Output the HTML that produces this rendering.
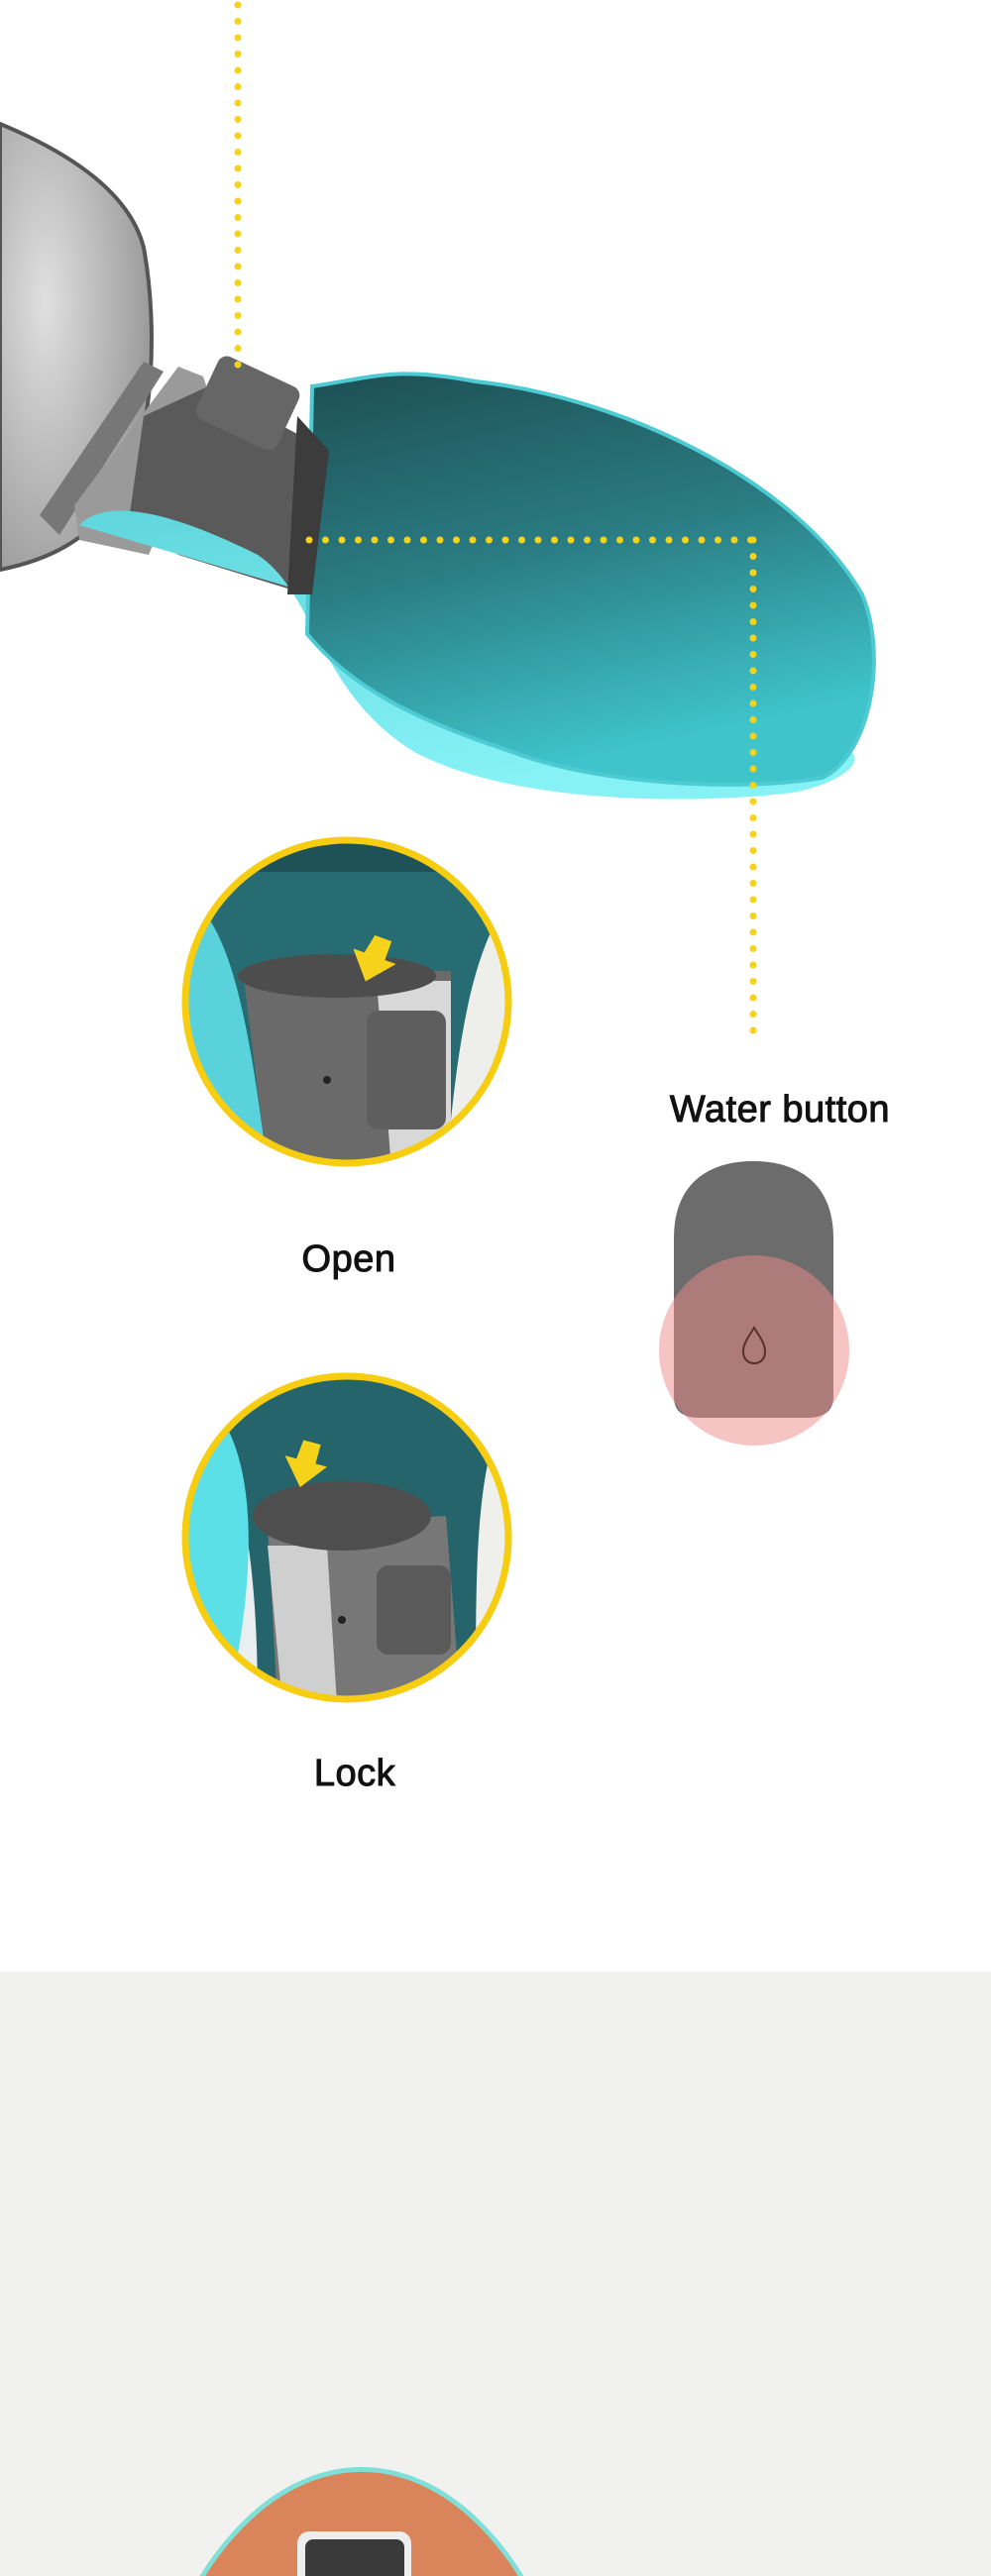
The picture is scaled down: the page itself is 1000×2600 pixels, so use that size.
<!DOCTYPE html>
<html><head><meta charset="utf-8"><style>
html,body{margin:0;padding:0;width:1000px;height:2600px;overflow:hidden;}
body{position:relative;background:#fff;font-family:"Liberation Sans",sans-serif;}
svg{position:absolute;left:0;top:0;}
.t{position:absolute;font-size:38px;color:#111;transform:translateX(-50%);white-space:nowrap;-webkit-text-stroke:1px #111;letter-spacing:0.5px;}
</style></head><body>
<svg width="1000" height="2600" viewBox="0 0 1000 2600">
<defs>
<linearGradient id="bowl" x1="0" y1="0" x2="0.3" y2="1">
<stop offset="0" stop-color="#1d4f54"/><stop offset="0.5" stop-color="#2a7c82"/><stop offset="1" stop-color="#3fc4cc"/></linearGradient>
<linearGradient id="lip" x1="0" y1="0" x2="0.4" y2="1">
<stop offset="0" stop-color="#5fd6dc"/><stop offset="1" stop-color="#86f2f6"/></linearGradient>
<radialGradient id="bot" cx="0.3" cy="0.4" r="0.8">
<stop offset="0" stop-color="#e0e0e0"/><stop offset="1" stop-color="#909090"/></radialGradient>
<clipPath id="c1"><circle cx="350" cy="1011" r="163"/></clipPath>
<clipPath id="c2"><circle cx="350" cy="1552" r="163"/></clipPath>
<clipPath id="c3"><ellipse cx="365" cy="2880" rx="230" ry="385"/></clipPath>
</defs>
<rect x="0" y="1990" width="1000" height="610" fill="#f1f1ef"/>
<path d="M0 125 C60 150 130 190 145 250 C160 330 155 450 120 500 C90 545 50 565 0 575 Z" fill="url(#bot)" stroke="#555" stroke-width="4"/>
<path d="M40 520 L145 365 L165 375 L60 540 Z" fill="#777"/>
<path d="M75 510 L180 370 L205 380 L215 410 L150 560 L80 545 Z" fill="#9a9a9a"/>
<path d="M145 420 L210 390 L332 455 L300 597 L180 560 L130 525 Z" fill="#5a5a5a"/>
<path d="M80 530 C110 500 180 520 260 560 C320 600 320 700 420 760 C520 812 700 812 800 800 C850 790 870 770 860 760 Z" fill="url(#lip)"/>
<path d="M315 390 C380 380 400 370 480 385 C620 400 800 480 870 600 C895 660 880 760 830 785 C740 800 600 790 520 760 C430 730 360 700 310 640 Z" fill="url(#bowl)" stroke="#4ccbd3" stroke-width="4"/>
<path d="M300 420 L332 455 L315 600 L290 600 Z" fill="#3c3c3c"/>
<rect x="205" y="372" width="90" height="70" rx="10" fill="#666" transform="rotate(25 250 407)"/>
<line x1="240" y1="5" x2="240" y2="375" stroke="#f6d21a" stroke-width="7" stroke-dasharray="0 16.5" stroke-linecap="round"/>
<line x1="312" y1="545" x2="760" y2="545" stroke="#f6d21a" stroke-width="7" stroke-dasharray="0 16.5" stroke-linecap="round"/>
<line x1="760" y1="545" x2="760" y2="1048" stroke="#f6d21a" stroke-width="7" stroke-dasharray="0 16.5" stroke-linecap="round"/>
<g clip-path="url(#c1)">
<rect x="180" y="840" width="340" height="340" fill="#276c72"/>
<path d="M180 840 L520 840 L520 880 L180 880Z" fill="#1f5257"/>
<path d="M180 900 C230 920 250 1020 270 1180 L180 1180Z" fill="#5ad2dc"/>
<path d="M520 900 C470 960 460 1080 450 1180 L520 1180Z" fill="#eeeeea"/>
<path d="M245 980 L455 980 L455 1180 L270 1180 Z" fill="#6a6a6a"/>
<path d="M380 990 L455 990 L455 1180 L395 1180Z" fill="#d8d8d8"/>
<ellipse cx="340" cy="985" rx="100" ry="22" fill="#4d4d4d"/>
<rect x="370" y="1020" width="80" height="120" rx="12" fill="#5e5e5e"/>
<circle cx="330" cy="1090" r="4" fill="#222"/>
<path d="M370 945 L388 945 L388 965 L400 965 L377 992 L354 965 L366 965Z" fill="#f6d21a" transform="rotate(20 377 968)"/>
</g>
<circle cx="350" cy="1011" r="163" fill="none" stroke="#f6cd10" stroke-width="7"/>
<g clip-path="url(#c2)">
<rect x="180" y="1380" width="340" height="340" fill="#24646a"/>
<path d="M180 1400 C240 1440 260 1560 260 1720 L180 1720Z" fill="#e9eef0"/>
<path d="M190 1400 C250 1430 270 1540 230 1720 L180 1720 L180 1400Z" fill="#5ce0e8"/>
<path d="M520 1400 C480 1470 480 1560 480 1720 L520 1720Z" fill="#efefeb"/>
<path d="M270 1540 L450 1530 L465 1720 L280 1720 Z" fill="#777"/>
<path d="M270 1560 L330 1560 L340 1720 L285 1720Z" fill="#cfcfcf"/>
<ellipse cx="345" cy="1530" rx="90" ry="35" fill="#4e4e4e"/>
<rect x="380" y="1580" width="75" height="90" rx="12" fill="#5a5a5a"/>
<circle cx="345" cy="1635" r="4" fill="#222"/>
<path d="M300 1455 L318 1455 L318 1475 L330 1475 L309 1502 L286 1475 L298 1475Z" fill="#f6d21a" transform="rotate(15 309 1478)"/>
</g>
<circle cx="350" cy="1552" r="163" fill="none" stroke="#f6cd10" stroke-width="7"/>
<path d="M680 1250 C680 1190 720 1172 760 1172 C800 1172 841 1190 841 1250 L841 1410 C841 1425 830 1431 815 1431 L706 1431 C690 1431 680 1425 680 1410 Z" fill="#6c6c6c"/>
<circle cx="761" cy="1363" r="96" fill="#f08a8a" opacity="0.5"/>
<path d="M761 1340 C755 1350 750 1356 750 1364 C750 1372 755 1376 761 1376 C767 1376 772 1372 772 1364 C772 1356 767 1350 761 1340Z" fill="none" stroke="#5a3030" stroke-width="2"/>
<ellipse cx="365" cy="2880" rx="235" ry="390" fill="#7ee0d8"/>
<g clip-path="url(#c3)">
<rect x="100" y="2490" width="540" height="120" fill="#d9845a"/>
<rect x="300" y="2555" width="115" height="60" rx="12" fill="#eee"/>
<rect x="308" y="2563" width="100" height="50" rx="8" fill="#3a3a3a"/>
</g>
</svg>
<div class="t" style="left:352px;top:1250px;">Open</div>
<div class="t" style="left:358px;top:1769px;">Lock</div>
<div class="t" style="left:787px;top:1099px;">Water button</div>
</body></html>
